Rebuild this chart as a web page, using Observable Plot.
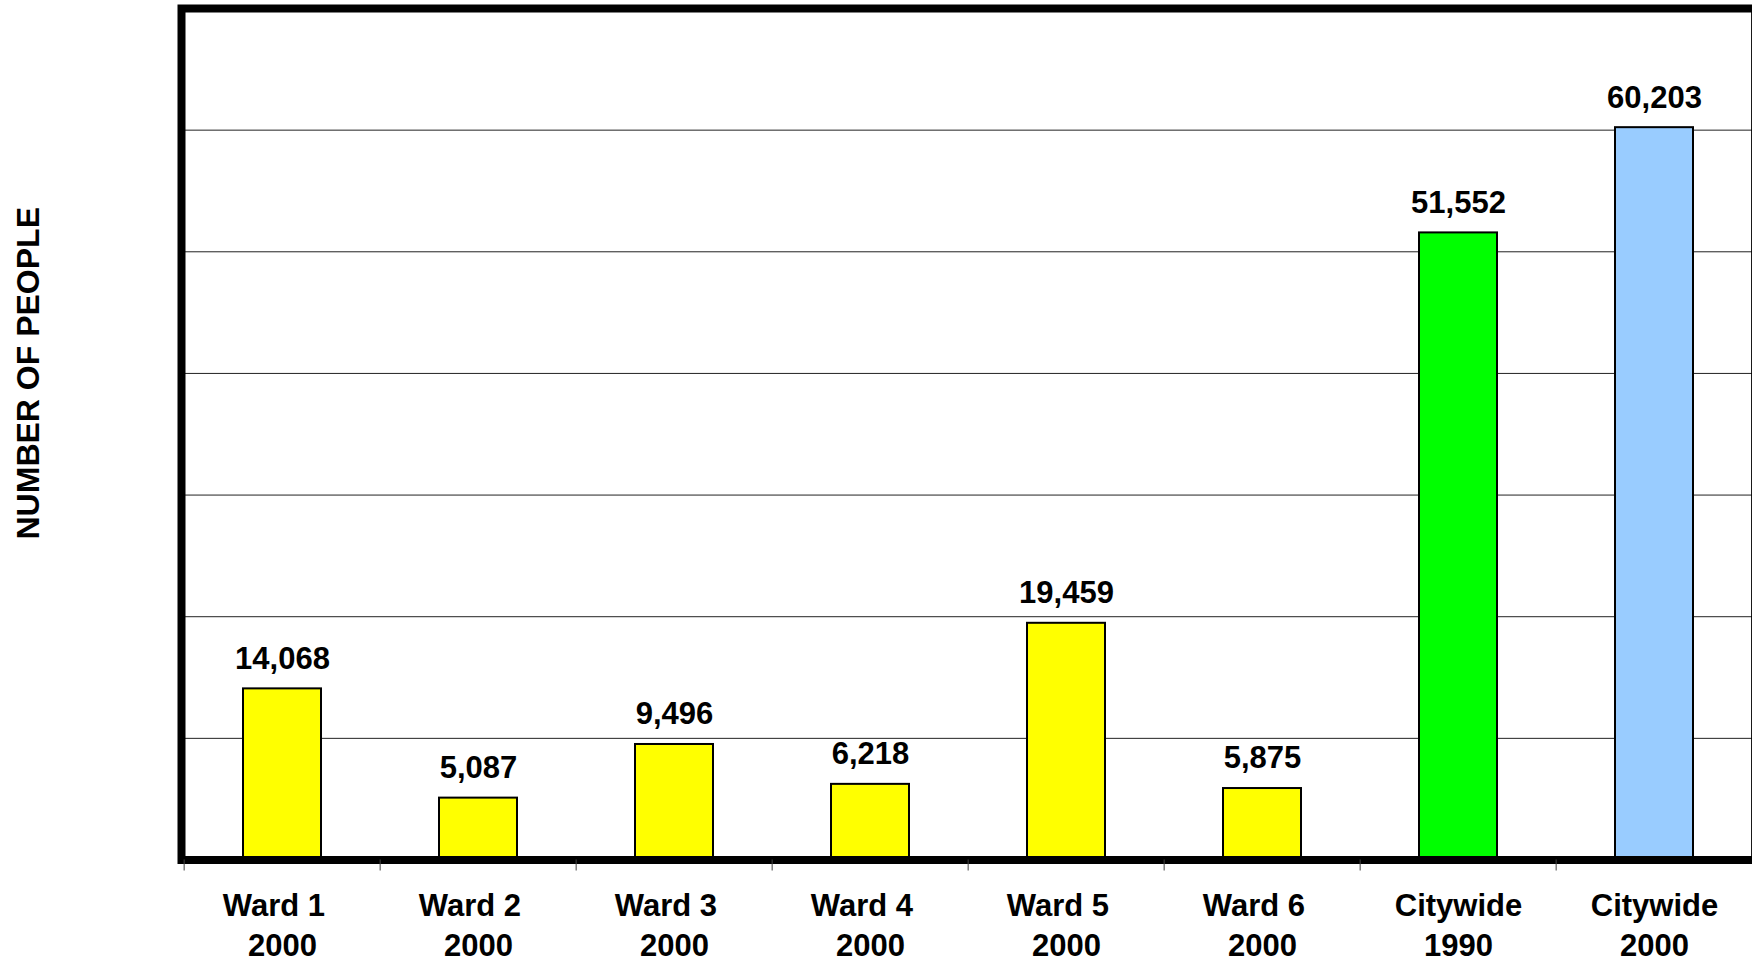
<!DOCTYPE html>
<html>
<head>
<meta charset="utf-8">
<script src="https://cdn.jsdelivr.net/npm/d3@7"></script>
<script src="https://cdn.jsdelivr.net/npm/@observablehq/plot@0.6"></script>
<style>
  html, body { margin: 0; padding: 0; background: #fff; overflow: hidden; }
  #chart svg { display: block; font-family: "Liberation Sans", Arial, sans-serif; color: #000; }
</style>
</head>
<body>
<div id="chart"></div>
<script>
// ---- data ----
const areas  = ["Ward 1", "Ward 2", "Ward 3", "Ward 4", "Ward 5", "Ward 6", "Citywide", "Citywide"];
const years  = ["2000", "2000", "2000", "2000", "2000", "2000", "1990", "2000"];
const values = [14068, 5087, 9496, 6218, 19459, 5875, 51552, 60203];
const colors = ["#FFFF00", "#FFFF00", "#FFFF00", "#FFFF00", "#FFFF00", "#FFFF00", "#00FF00", "#99CCFF"];
const gridTicks = [10000, 20000, 30000, 40000, 50000, 60000];
const yTitle = "NUMBER OF PEOPLE";

const data = areas.map((a, i) => ({key: a + "\n" + years[i], value: values[i], color: colors[i]}));
const keys = data.map(d => d.key);
// ward labels carry trailing spaces in the original, shifting them slightly left
const tickLabel = k => {
  const [a, y] = k.split("\n");
  return (a.startsWith("Ward") ? a + "\u00a0\u00a0" : a) + "\n" + y;
};

// ---- layout ----
const W = 1752, H = 962;
const mLeft = 181, mRight = -2.6, mTop = 8, mBottom = 102.5;
const step = (W - mLeft - mRight) / keys.length;
const fs = 31;

const chart = Plot.plot({
  width: W,
  height: H,
  marginLeft: mLeft,
  marginRight: mRight,
  marginTop: mTop,
  marginBottom: mBottom,
  style: {fontFamily: "Liberation Sans, Arial, sans-serif", color: "#000", background: "#fff"},
  x: {domain: keys, paddingInner: 0.6, paddingOuter: 0.3, axis: null},
  y: {domain: [0, 70000], axis: null},
  color: {type: "identity"},
  marks: [
    Plot.gridY(gridTicks, {stroke: "#222", strokeOpacity: 1, strokeWidth: 1}),
    Plot.barY(data, {x: "key", y: "value", fill: "color", stroke: "#000", strokeWidth: 2}),
    Plot.text(data, {x: "key", y: "value", text: d => d3.format(",")(d.value),
      dy: -30, fontSize: fs, fontWeight: "bold", fill: "#000"}),
    Plot.frame({stroke: "#000", strokeWidth: 8}),
    // tick marks at band edges
    Plot.axisX({tickSize: 11, tickFormat: () => "", dx: -step / 2, stroke: "#444", strokeWidth: 1, label: null}),
    // category labels
    Plot.axisX({tickSize: 0, tickPadding: 28, tickFormat: tickLabel, fontSize: fs, fontWeight: "bold",
      lineHeight: 1.29, fill: "#000", label: null}),
    // y axis title
    Plot.text([yTitle], {frameAnchor: "left", text: d => d, rotate: -90, textAnchor: "middle",
      dx: -(mLeft - 28), dy: -61, fontSize: 32, fontWeight: "bold", fill: "#000"})
  ]
});
document.getElementById("chart").append(chart);
</script>
</body>
</html>
